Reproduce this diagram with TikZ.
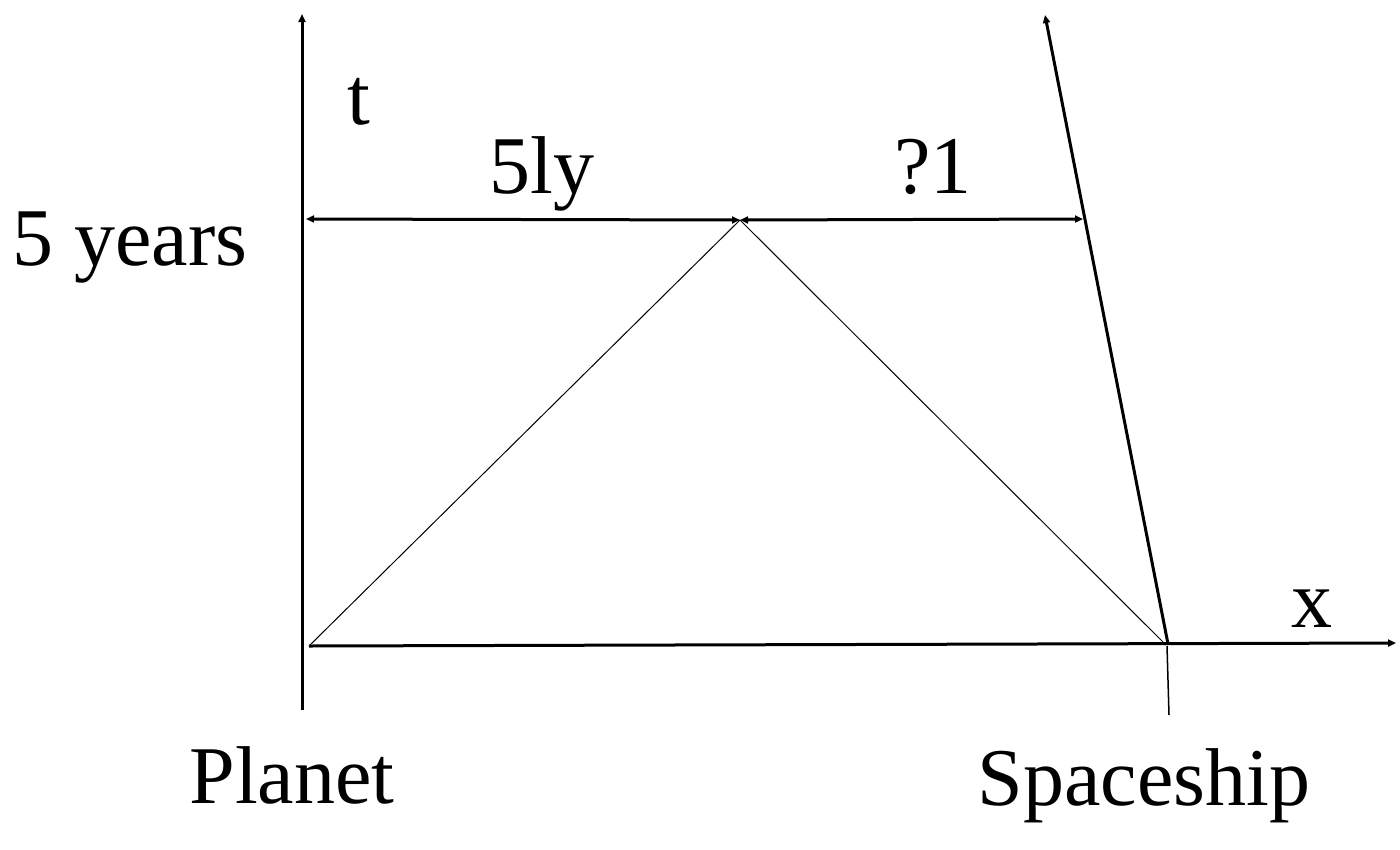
\documentclass[tikz,border=0pt]{standalone}
\usepackage{fontspec}
\setmainfont{Liberation Serif}
\usetikzlibrary{arrows.meta}
\begin{document}
\begin{tikzpicture}[x=1pt,y=-1pt,
  thickline/.style={line width=3pt},
  thinline/.style={line width=1pt},
  tip/.style={-{Triangle[length=8pt,width=7pt]}},
  lbl/.style={font=\fontsize{82}{98}\selectfont, anchor=base, inner sep=0pt}]
\useasboundingbox (0,0) rectangle (1400,849);
% points
\coordinate (vb) at (302,710);
\coordinate (vt) at (302,14);
\coordinate (o) at (309,646);
\coordinate (xe) at (1396,643);
\coordinate (apex) at (740,220);
\coordinate (ev) at (1166,645);
\coordinate (sb) at (1168,644);
\coordinate (st) at (1045,15);
\coordinate (sl) at (1167,646);
\coordinate (sd) at (1169,715);
\coordinate (al) at (306,219);
\coordinate (ar) at (1083,219);
% axes
\draw[thickline,tip] (vb) -- (vt);
\draw[thickline,tip] (o) -- (xe);
% light rays
\draw[thinline] (o) -- (apex) -- (ev);
% spaceship worldline
\draw[thickline,tip] (sb) -- (st);
\draw[line width=1.5pt] (sl) -- (sd);
% distance arrows
\draw[thickline,{Triangle[length=8pt,width=7pt]}-{Triangle[length=8pt,width=7pt]}] (al) -- (apex);
\draw[thickline,{Triangle[length=8pt,width=7pt]}-{Triangle[length=8pt,width=7pt]}] (apex) -- (ar);
% labels
\node[lbl] (t) at (359,124) {t};
\node[lbl] (yrs) at (130,265) {5 years};
\node[lbl] (ly) at (542,193) {5ly};
\node[lbl] (q) at (933,193) {?1};
\node[lbl] (x) at (1312,627) {x};
\node[lbl] (planet) at (292,803) {Planet};
\node[lbl] (ship) at (1144,805) {Spaceship};
\end{tikzpicture}
\end{document}
